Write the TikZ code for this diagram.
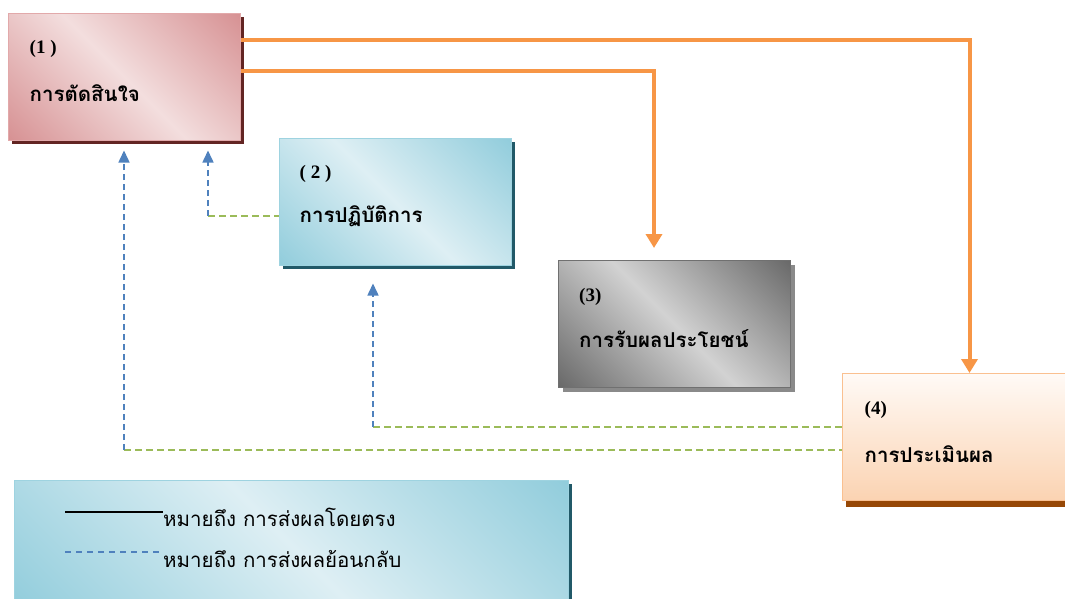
\documentclass[tikz,border=0pt]{standalone}
\usepackage{fontspec}
\setmainfont{Liberation Serif}
\newfontfamily\thaifont[Script=Thai]{Loma}
\usetikzlibrary{arrows.meta,calc,shadows}
\definecolor{pdark}{HTML}{D79294}
\definecolor{plight}{HTML}{F3DEDE}
\definecolor{pborder}{HTML}{E2A9AA}
\definecolor{pshadow}{HTML}{632523}
\definecolor{bdark}{HTML}{92CDDC}
\definecolor{blight}{HTML}{DEEFF4}
\definecolor{bborder}{HTML}{9ED3E0}
\definecolor{bshadow}{HTML}{215968}
\definecolor{gdark}{HTML}{6A6A6A}
\definecolor{glight}{HTML}{D2D2D2}
\definecolor{gborder}{HTML}{707070}
\definecolor{gshadow}{HTML}{8A8A8A}
\definecolor{otop}{HTML}{FFFAF6}
\definecolor{obot}{HTML}{FBD3B2}
\definecolor{oborder}{HTML}{FAC090}
\definecolor{oshadow}{HTML}{974806}
\definecolor{orangeline}{HTML}{F79646}
\definecolor{blueline}{HTML}{4F81BD}
\definecolor{greenline}{HTML}{9BBB59}
\pgfdeclarehorizontalshading{pinkdiag}{100bp}{color(0bp)=(pdark); color(15bp)=(pdark); color(50bp)=(plight); color(85bp)=(pdark); color(100bp)=(pdark)}
\pgfdeclarehorizontalshading{bluediag}{100bp}{color(0bp)=(bdark); color(15bp)=(bdark); color(50bp)=(blight); color(85bp)=(bdark); color(100bp)=(bdark)}
\pgfdeclarehorizontalshading{greydiag}{100bp}{color(0bp)=(gdark); color(15bp)=(gdark); color(50bp)=(glight); color(85bp)=(gdark); color(100bp)=(gdark)}
\tikzset{
  box/.style={rectangle, minimum width=232pt, minimum height=127pt, line width=1pt, inner sep=0pt},
  boxA/.style={box, draw=pborder, shading=pinkdiag, shading angle=45,
    drop shadow={shadow xshift=4pt, shadow yshift=-4pt, fill=pshadow, opacity=1}},
  boxB/.style={box, draw=bborder, shading=bluediag, shading angle=45,
    drop shadow={shadow xshift=4pt, shadow yshift=-4pt, fill=bshadow, opacity=1}},
  boxC/.style={box, draw=gborder, shading=greydiag, shading angle=45,
    drop shadow={shadow xshift=4pt, shadow yshift=-4pt, fill=gshadow, opacity=1}},
  boxD/.style={box, draw=oborder, top color=otop, bottom color=obot,
    drop shadow={shadow xshift=4pt, shadow yshift=-6pt, fill=oshadow, opacity=1}},
  legendbox/.style={rectangle, minimum width=554pt, minimum height=130pt, line width=1pt, draw=bborder, shading=bluediag, shading angle=45,
    drop shadow={shadow xshift=4pt, shadow yshift=-4pt, fill=bshadow, opacity=1}},
  numlbl/.style={anchor=west, inner sep=0pt, font=\fontsize{19}{22}\selectfont\bfseries},
  thlbl/.style={anchor=west, inner sep=0pt, font=\thaifont\fontsize{20.5}{24}\selectfont\bfseries},
  leglbl/.style={anchor=west, inner sep=0pt, font=\thaifont\fontsize{20.5}{24}\selectfont},
  oarrow/.style={draw=orangeline, line width=4pt, -{Triangle[length=14pt,width=16pt]}},
  barrow/.style={draw=blueline, line width=1.5pt, dash pattern=on 6pt off 4pt, -{Triangle[length=12pt,width=11pt]}},
  gline/.style={draw=greenline, line width=1.5pt, dash pattern=on 7pt off 4pt},
}
\begin{document}
\begin{tikzpicture}[x=1pt,y=-1pt]
\useasboundingbox (0,0) rectangle (1065,598);
% boxes
\node[boxA] (b1) at (124,76.5) {};
\node[boxB] (b2) at (395,201.5) {};
\node[boxC] (b3) at (674.5,324) {};
\node[boxD] (b4) at (958,437) {};
\node[legendbox] (lg) at (291,545) {};
% labels
\node[numlbl] (n1) at ($(b1.west)+(22,-28)$) {(1 )};
\node[thlbl] (t1) at ($(b1.west)+(22,17)$) {การตัดสินใจ};
\node[numlbl] (n2) at ($(b2.west)+(21,-28)$) {( 2 )};
\node[thlbl] (t2) at ($(b2.west)+(21,15)$) {การปฏิบัติการ};
\node[numlbl] (n3) at ($(b3.west)+(21,-27)$) {(3)};
\node[thlbl] (t3) at ($(b3.west)+(21,15)$) {การรับผลประโยชน์};
\node[numlbl] (n4) at ($(b4.west)+(23,-27)$) {(4)};
\node[thlbl] (t4) at ($(b4.west)+(23,17)$) {การประเมินผล};
% orange direct arrows
\draw[oarrow] ($(b1.north east)+(0,27)$) -| ($(b4.north west)+(128,0)$);
\draw[oarrow] ($(b1.north east)+(0,58)$) -| ($(b3.north west)+(96,-12)$);
% feedback corners
\coordinate (k1) at (124,450);
\coordinate (k2) at (208,216);
\coordinate (k3) at (373,427);
\draw[gline] (k2) -- (k2 -| b2.west);
\draw[gline] (k3) -- (k3 -| b4.west);
\draw[gline] (k1) -- (k1 -| b4.west);
\draw[barrow] (k1) -- ($(k1 |- b1.south)+(0,10)$);
\draw[barrow] (k2) -- ($(k2 |- b1.south)+(0,10)$);
\draw[barrow] (k3) -- ($(k3 |- b2.south)+(0,18)$);
% legend
\coordinate (l1a) at (65,512);
\coordinate (l1b) at (163,512);
\coordinate (l2a) at (65,552);
\coordinate (l2b) at (163,552);
\draw[black, line width=1.5pt] (l1a) -- (l1b);
\draw[blueline, line width=1.2pt, dash pattern=on 6pt off 5pt] (l2a) -- (l2b);
\node[leglbl] (lt1) at (163,517) {หมายถึง การส่งผลโดยตรง};
\node[leglbl] (lt2) at (163,559) {หมายถึง การส่งผลย้อนกลับ};
\end{tikzpicture}
\end{document}
